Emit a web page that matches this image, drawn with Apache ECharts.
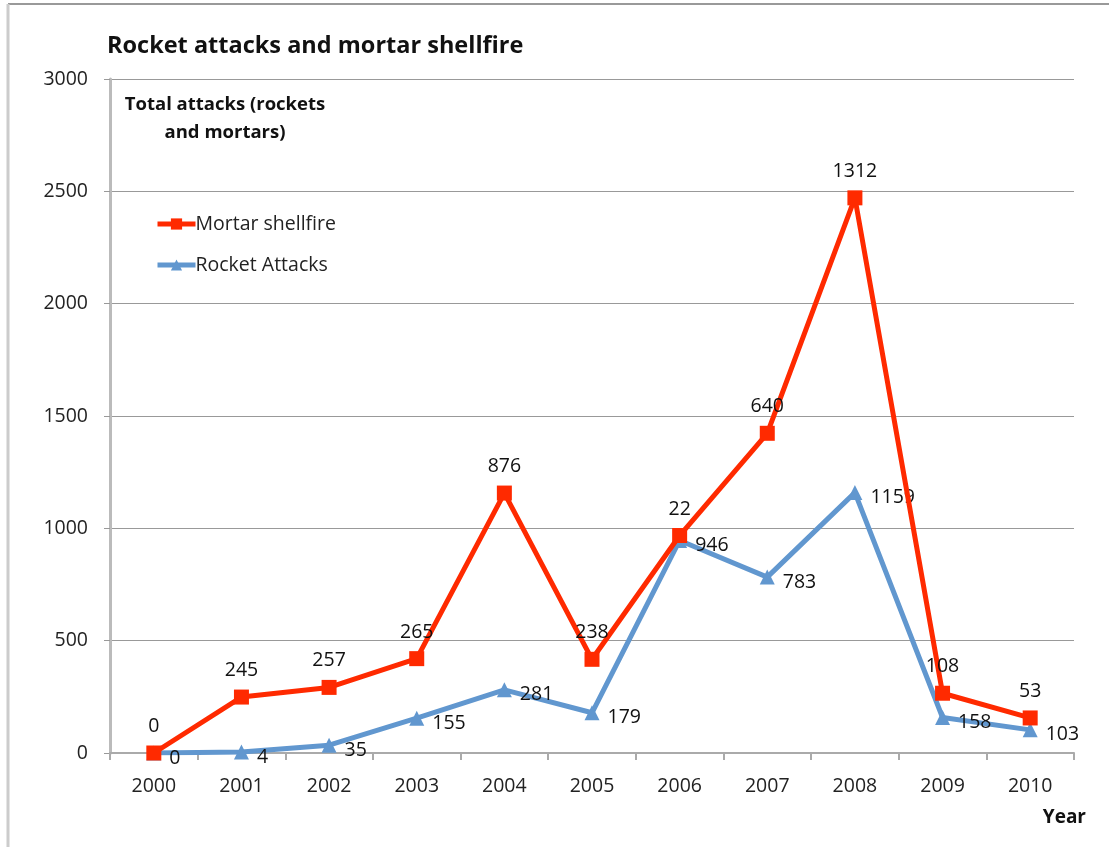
<!DOCTYPE html>
<html>
<head>
<meta charset="utf-8">
<script src="https://cdn.jsdelivr.net/npm/echarts@6/dist/echarts.min.js"></script>
<style>html,body{margin:0;padding:0;background:#fff;}#c{width:1109px;height:847px;}</style>
</head>
<body>
<div id="c"></div>
<script>
const years = ['2000','2001','2002','2003','2004','2005','2006','2007','2008','2009','2010'];
const rocketAttacks = [0, 4, 35, 155, 281, 179, 946, 783, 1159, 158, 103];
const mortarShellfire = [0, 245, 257, 265, 876, 238, 22, 640, 1312, 108, 53];
const yTicks = [0, 500, 1000, 1500, 2000, 2500, 3000];

const FONT = 'Open Sans';
const chart = echarts.init(document.getElementById('c'), null, {renderer: 'canvas'});
chart.setOption({
  animation: false,
  backgroundColor: '#fff',
  textStyle: {fontFamily: FONT},
  title: {
    text: 'Rocket attacks and mortar shellfire',
    left: 102, top: 29,
    textStyle: {fontFamily: FONT, fontWeight: 'bold', fontSize: 23.5, color: '#111'}
  },
  legend: {
    orient: 'vertical',
    left: 150, top: 209,
    itemWidth: 38, itemHeight: 14, itemGap: 21,
    data: ['Mortar shellfire', 'Rocket Attacks'],
    lineStyle: {width: 5},
    textStyle: {fontFamily: FONT, fontSize: 19.5, color: '#222', padding: [0,0,0,-5]}
  },
  grid: {left: 110, top: 79, right: 35, bottom: 94},
  xAxis: {
    type: 'category',
    data: years,
    boundaryGap: true,
    axisLine: {lineStyle: {color: '#aaa', width: 2}},
    axisTick: {show: true, length: 7, lineStyle: {color: '#aaa', width: 2}},
    axisLabel: {margin: 23, fontSize: 19.5, color: '#222', fontFamily: FONT},
    splitLine: {show: false}
  },
  yAxis: {
    type: 'value',
    min: yTicks[0], max: yTicks[yTicks.length-1], interval: 500,
    axisLine: {show: true, lineStyle: {color: '#bbb', width: 3}},
    axisTick: {show: true, length: 6, lineStyle: {color: '#999', width: 1}},
    axisLabel: {margin: 22, fontSize: 19.5, color: '#222', fontFamily: FONT, formatter: function (v) { return String(v); }},
    splitLine: {show: true, lineStyle: {color: '#999', width: 1}}
  },
  series: [
    {
      name: 'Rocket Attacks',
      type: 'line',
      stack: 'total',
      data: rocketAttacks,
      color: '#6197CF',
      symbol: 'triangle', symbolSize: 15,
      lineStyle: {width: 5, color: '#6197CF'},
      itemStyle: {color: '#6197CF'},
      label: {show: true, position: 'right', distance: 8, offset: [0, 5], fontSize: 19.5, color: '#111', fontFamily: FONT},
      z: 2
    },
    {
      name: 'Mortar shellfire',
      type: 'line',
      stack: 'total',
      data: mortarShellfire,
      color: '#FF2A00',
      symbol: 'rect', symbolSize: 15,
      lineStyle: {width: 5, color: '#FF2A00'},
      itemStyle: {color: '#FF2A00'},
      label: {show: true, position: 'top', distance: 9, fontSize: 19.5, color: '#111', fontFamily: FONT},
      z: 3
    }
  ],
  graphic: [
    {type: 'line', shape: {x1: 8, y1: 4, x2: 1109, y2: 4}, style: {stroke: '#999', lineWidth: 2}},
    {type: 'line', shape: {x1: 8, y1: 4, x2: 8, y2: 847}, style: {stroke: '#ccc', lineWidth: 3}},
    {type: 'text', x: 225, y: 91, style: {text: 'Total attacks (rockets\nand mortars)', align: 'center', font: 'bold 18.5px "Open Sans"', fill: '#111', lineHeight: 28}},
    {type: 'text', right: 23, top: 808, style: {text: 'Year', font: 'bold 19px "Open Sans"', fill: '#111'}}
  ]
});
</script>
</body>
</html>
